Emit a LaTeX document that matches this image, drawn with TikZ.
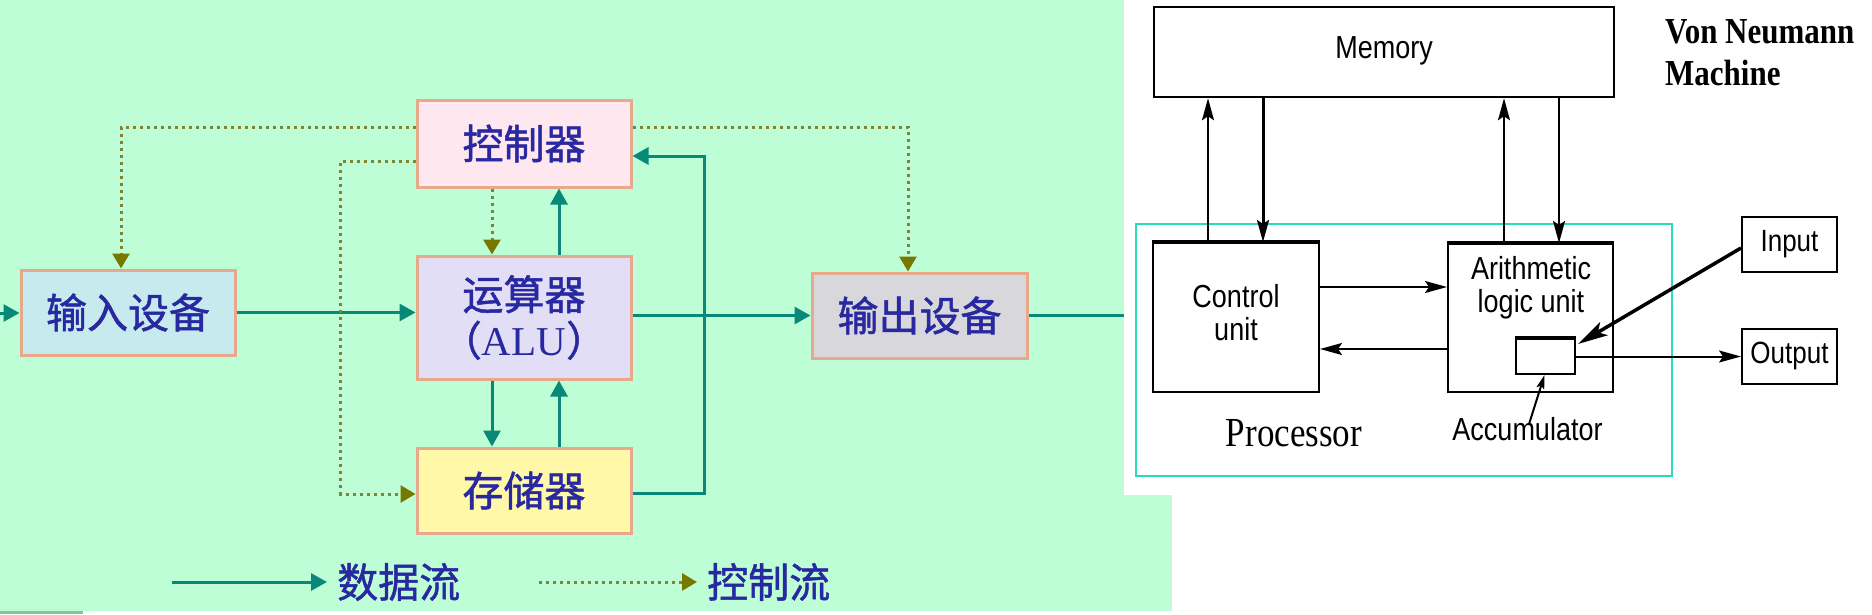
\documentclass[tikz,border=0pt]{standalone}
\usepackage{graphicx}
\usepackage{fontspec}
\setmainfont{Liberation Serif}
\setsansfont{Liberation Sans}
\newfontfamily\cjk[FakeBold=1.2]{Noto Sans CJK SC}
\usetikzlibrary{arrows.meta}

\definecolor{bgmint}{RGB}{190,254,214}
\definecolor{barmint}{RGB}{130,200,150}
\definecolor{ctrlpink}{RGB}{255,231,239}
\definecolor{inblue}{RGB}{198,234,238}
\definecolor{alulav}{RGB}{226,222,245}
\definecolor{memyellow}{RGB}{255,248,168}
\definecolor{outgray}{RGB}{216,216,220}
\definecolor{boxedge}{RGB}{232,168,140}
\definecolor{cjkblue}{RGB}{40,40,160}
\definecolor{flowteal}{RGB}{8,136,120}
\definecolor{ctrldot}{RGB}{130,130,50}
\definecolor{ctrlhead}{RGB}{120,120,0}
\definecolor{procline}{RGB}{40,220,184}

\newcommand{\vtall}[2][c]{\scalebox{1}[1.18]{\begin{tabular}{@{}#1@{}}#2\end{tabular}}}

\begin{document}
\begin{tikzpicture}[x=1pt, y=-1pt,
    unit/.style={draw=boxedge, line width=3pt, inner sep=0pt, minimum width=214pt,
        text=cjkblue, font=\cjk\fontsize{41}{46}\selectfont},
    legend/.style={anchor=west, inner sep=0pt, text=cjkblue, font=\cjk\fontsize{41}{46}\selectfont},
    dataflow/.style={draw=flowteal, line width=3pt, -{Triangle[length=16pt,width=17pt]}},
    ctrlflow/.style={draw=ctrldot, line width=3pt, dash pattern=on 3pt off 4pt,
        -{Triangle[length=15pt,width=17pt,color=ctrlhead,fill=ctrlhead]}},
    vnbox/.style={draw, line width=2pt, inner sep=0pt, font=\sffamily\fontsize{27}{28}\selectfont},
    vnarrow/.style={line width=2pt, -{Stealth[length=22pt,width=12pt,inset=4pt]}}]

            \useasboundingbox (0,0) rectangle (1872,614);

            %background
            \fill[white] (0,0) rectangle (1872,614);

            \fill[bgmint] (0,0) rectangle (1172,611);

            \fill[barmint] (0,611) rectangle (83,614);

            %left units
            \node[unit, fill=ctrlpink, minimum height=87pt] (ctrl) at (524,143.5) {控制器};

            \node[unit, fill=inblue, minimum height=85pt] (in) at (128,312.5) {输入设备};

            \node[unit, fill=alulav, minimum height=123pt, align=center] (alu) at (524,317.5) {运算器\\（{\rmfamily ALU}）};

            \node[unit, fill=memyellow, minimum height=85pt] (mem) at (524,490.5) {存储器};

            \node[unit, fill=outgray, minimum height=85pt, minimum width=215pt] (out) at (919.5,315.5) {输出设备};

            %data flow
            \coordinate (inlead) at (-20,313);

            \coordinate (outlead) at (1124,315.5);

            \draw[dataflow] (inlead) -- (inlead -| in.west);

            \draw[dataflow] (in.east) -- (in.east -| alu.west);

            \draw[dataflow] (out.west -| alu.east) -- (out.west);

            \draw[draw=flowteal, line width=3pt] (out.east) -- (outlead);

            \draw[dataflow] ([xshift=35pt]alu.north) -- ([xshift=35pt]ctrl.south);

            \draw[dataflow] ([xshift=35pt]mem.north) -- ([xshift=35pt]alu.south);

            \draw[dataflow] ([xshift=-32pt]alu.south) -- ([xshift=-32pt]mem.north);

            \draw[dataflow] ([yshift=-2.5pt]mem.east) -- ++(72,0) |- ([yshift=-12.5pt]ctrl.east);

            %control flow
            \draw[ctrlflow] ([yshift=16.5pt]ctrl.west) -| ([xshift=-7pt]in.north);

            \draw[ctrlflow] ([yshift=-17.5pt]ctrl.west) -- ++(-75,0) |- ([yshift=-3.5pt]mem.west);

            \draw[ctrlflow] ([xshift=-32pt]ctrl.south) -- ([xshift=-32pt]alu.north);

            \draw[ctrlflow] ([yshift=16.5pt]ctrl.east) -| ([xshift=-11.5pt]out.north);

            %legend
            \node[legend] (dtxt) at (337,582) {数据流};

            \coordinate (dstart) at (172,582);

            \draw[dataflow] (dstart) -- ([xshift=-10pt]dtxt.west);

            \node[legend] (ctxt) at (707,582) {控制流};

            \coordinate (cstart) at (539,582);

            \draw[ctrlflow] (cstart) -- ([xshift=-10pt]ctxt.west);

            %von neumann panel
            \fill[white] (1124,0) rectangle (1872,495);

            \node[vnbox, line width=2.5pt, minimum width=460pt, minimum height=90pt] (memory) at (1384,52) {\vtall{Memory}};

            \node[vnbox, minimum width=166pt, minimum height=149pt] (cu) at (1236,317.5) {\vtall{Control\\unit}};

            \draw[line width=3.5pt] (cu.north west) -- (cu.north east);

            \node[vnbox, minimum width=165pt, minimum height=148pt] (alu2) at (1530.5,318) {};

            \draw[line width=3.5pt] (alu2.north west) -- (alu2.north east);

            \node[font=\sffamily\fontsize{27}{26}\selectfont, inner sep=0pt] (alutext) at (1531,289) {\vtall{Arithmetic\\logic unit}};

            \node[vnbox, minimum width=59pt, minimum height=35pt] (acc) at (1545.5,356.5) {};

            \draw[line width=3.5pt] (acc.north west) -- (acc.north east);

            \node[vnbox, font=\sffamily\fontsize{26}{28}\selectfont, minimum width=95pt, minimum height=55pt] (inp) at (1789.5,244.5) {\vtall{Input}};

            \node[vnbox, font=\sffamily\fontsize{26}{28}\selectfont, minimum width=95pt, minimum height=55pt] (outp) at (1789.5,356.5) {\vtall{Output}};

            \node[draw=procline, line width=2pt, minimum width=536pt, minimum height=252pt, inner sep=0pt] (proc) at (1404,350) {};

            \node[font=\rmfamily\fontsize{35}{40}\selectfont, inner sep=0pt] (proclabel) at (1294,437) {\vtall{Processor}};

            \node[font=\sffamily\fontsize{27}{30}\selectfont, inner sep=0pt] (acclabel) at (1527.5,433) {\vtall{Accumulator}};

            \node[anchor=west, inner sep=0pt, font=\rmfamily\bfseries\fontsize{31}{36}\selectfont] (title) at (1665,56) {\vtall[l]{Von Neumann\\Machine}};

            %memory traffic
            \draw[vnarrow] ([xshift=-28pt]cu.north) -- ([xshift=-28pt]cu.north |- memory.south);

            \draw[vnarrow, line width=3pt] ([xshift=27pt]cu.north |- memory.south) -- ([xshift=27pt]cu.north);

            \draw[vnarrow] ([xshift=-26.5pt]alu2.north) -- ([xshift=-26.5pt]alu2.north |- memory.south);

            \draw[vnarrow] ([xshift=28.5pt]alu2.north |- memory.south) -- ([xshift=28.5pt]alu2.north);

            %inside processor
            \draw[vnarrow] ([yshift=30.5pt]cu.east) -- ([yshift=30.5pt]cu.east -| alu2.west);

            \draw[vnarrow] ([yshift=-31.5pt]cu.east -| alu2.west) -- ([yshift=-31.5pt]cu.east);

            \draw[vnarrow, line width=3.5pt, -{Stealth[length=30pt,width=15pt,inset=7pt]}] ([yshift=-3.5pt]inp.west) -- ([xshift=2pt,yshift=-6pt]acc.north east);

            \draw[vnarrow] (acc.east) -- (outp.west);

            \draw[vnarrow, -{Stealth[length=14pt,width=8pt,inset=3pt]}] ([xshift=1.5pt,yshift=-9pt]acclabel.north) -- ([xshift=-1pt]acc.south);
        \end{tikzpicture}
\end{document}
